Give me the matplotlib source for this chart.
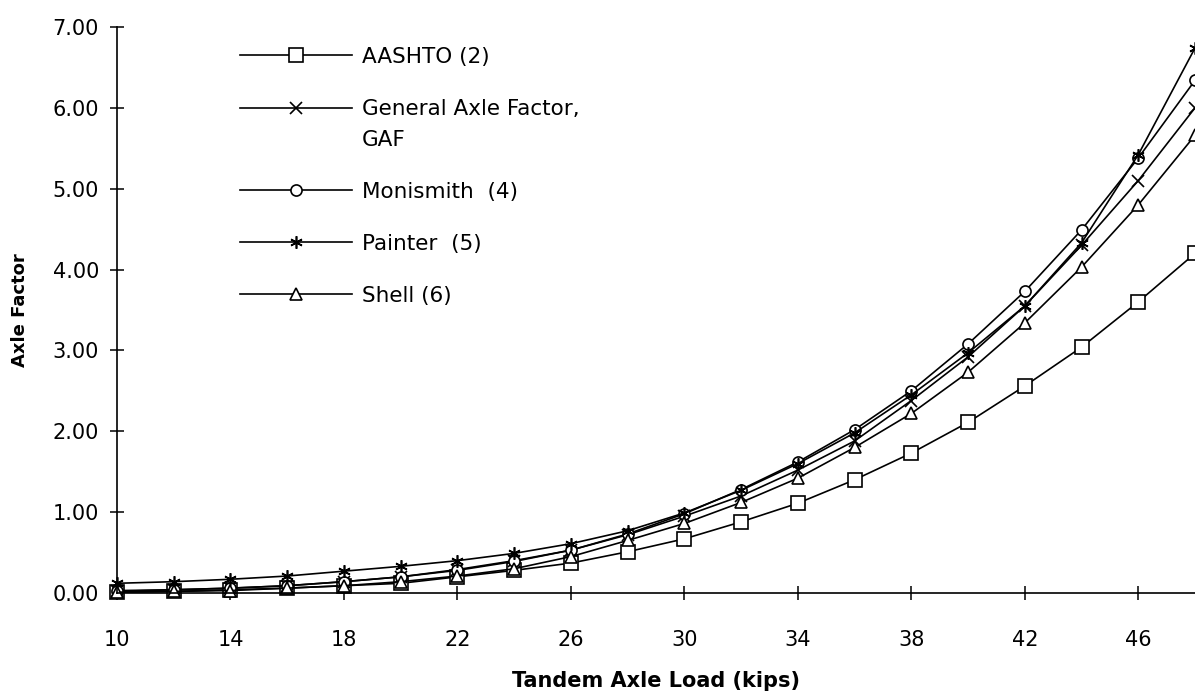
import numpy as np
import matplotlib
matplotlib.use("Agg")
import matplotlib.pyplot as plt
from matplotlib.ticker import FormatStrFormatter

loads = [10, 12, 14, 16, 18, 20, 22, 24, 26, 28, 30, 32, 34, 36, 38, 40, 42, 44, 46, 48]

aashto = [0.01, 0.02, 0.04, 0.06, 0.09, 0.12, 0.20, 0.28, 0.37, 0.51,
          0.67, 0.88, 1.11, 1.40, 1.73, 2.11, 2.56, 3.04, 3.60, 4.20]
gaf = [0.03, 0.04, 0.06, 0.09, 0.14, 0.20, 0.29, 0.40, 0.53, 0.72,
       0.95, 1.20, 1.52, 1.88, 2.38, 2.92, 3.55, 4.30, 5.10, 6.00]
monismith = [0.02, 0.04, 0.06, 0.09, 0.14, 0.20, 0.28, 0.39, 0.53, 0.73,
             0.98, 1.28, 1.62, 2.02, 2.50, 3.08, 3.73, 4.49, 5.38, 6.34]
painter = [0.12, 0.14, 0.17, 0.21, 0.27, 0.33, 0.40, 0.49, 0.61, 0.77,
           0.99, 1.27, 1.60, 1.98, 2.45, 2.97, 3.55, 4.33, 5.42, 6.74]
shell = [0.01, 0.02, 0.03, 0.06, 0.09, 0.14, 0.21, 0.30, 0.45, 0.65,
         0.86, 1.12, 1.42, 1.80, 2.22, 2.73, 3.34, 4.03, 4.80, 5.66]

labels = ["AASHTO (2)", "General Axle Factor,\nGAF", "Monismith  (4)", "Painter  (5)", "Shell (6)"]
xticks = [10, 14, 18, 22, 26, 30, 34, 38, 42, 46]
yticks = [0, 1, 2, 3, 4, 5, 6, 7]

plt.rcParams['font.family'] = ['DejaVu Sans']

W, H = 1195, 697
fig = plt.figure(figsize=(W / 100, H / 100), dpi=100)
ax = fig.add_axes([117 / W, 104 / H, 1 - 117 / W, 566 / H])

series = [aashto, gaf, monismith, painter, shell]
markers = ['s', 'x', 'o', (6, 2, 0), '^']
msizes = [9.5, 8, 8, 9, 9]
for vals, mk, ms, lab in zip(series, markers, msizes, labels):
    ax.plot(loads, vals, color='black', lw=1.2, marker=mk, ms=ms,
            mfc='white', mec='black', mew=1.2, label=lab, clip_on=False)

ax.set_xlim(10, 48)
ax.set_ylim(0, 7)
ax.set_xticks(xticks)
ax.set_yticks(yticks)
ax.yaxis.set_major_formatter(FormatStrFormatter('%.2f'))
for s in ['top', 'right']:
    ax.spines[s].set_visible(False)
for s in ['left', 'bottom']:
    ax.spines[s].set_linewidth(1.2)
ax.tick_params(axis='both', direction='inout', length=10, width=1.1, labelsize=15)
ax.tick_params(axis='x', pad=22)
ax.tick_params(axis='y', pad=8)

ax.set_xlabel("Tandem Axle Load (kips)", fontsize=15, fontweight='bold', labelpad=15)
ax.set_ylabel("Axle Factor", fontsize=13, fontweight='bold', labelpad=17)

leg = ax.legend(loc='upper left', bbox_to_anchor=(240 / W, 1 - 47 / H),
                bbox_transform=fig.transFigure, frameon=False, fontsize=15.5,
                handlelength=5.2, handletextpad=0.45, labelspacing=1.48,
                borderpad=0, borderaxespad=0)
leg.get_texts()[1].set_linespacing(1.7)
try:
    col = leg._legend_handle_box.get_children()[0]
    row = col.get_children()[1]
    da = row.get_children()[0]
    for art in da.get_children():
        art.set_ydata(np.asarray(art.get_ydata()) + 12.5)
except Exception:
    pass

fig.savefig("out.png", dpi=100)
